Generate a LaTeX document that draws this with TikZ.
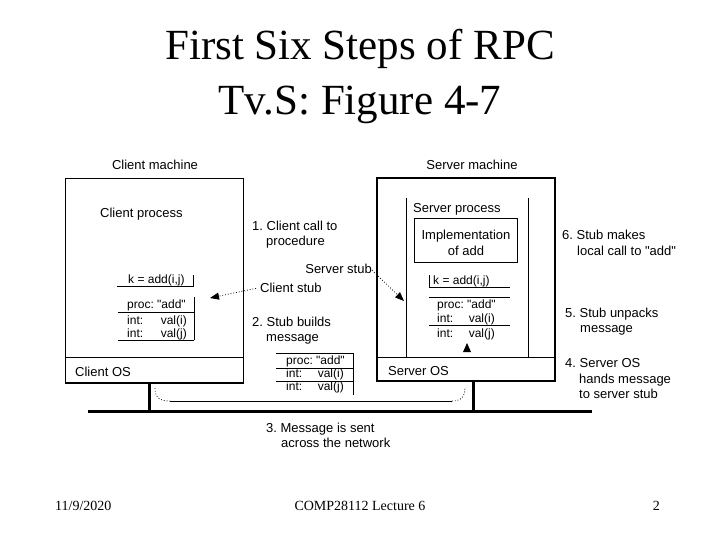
\documentclass[tikz,border=0pt]{standalone}
\usepackage{fontspec}
\setmainfont{Liberation Serif}
\newfontfamily\diagfont{Liberation Sans}
\usetikzlibrary{arrows.meta}
\frenchspacing
\tikzset{
  lbl/.style={font=\diagfont\fontsize{13}{15}\selectfont, inner sep=0pt, anchor=base west},
  stubtxt/.style={font=\diagfont\fontsize{12}{14}\selectfont, inner sep=0pt, anchor=base west},
  stubval/.style={stubtxt, anchor=base east},
  thin/.style={line width=1pt},
  thickbox/.style={line width=2pt},
  net/.style={line width=3pt},
  ptr/.style={dotted, line width=0.8pt, -{Triangle[length=9pt,width=7pt]}},
  ttl/.style={font=\fontsize{43}{50}\selectfont, inner sep=0pt, anchor=base},
  foot/.style={font=\fontsize{14}{16}\selectfont, inner sep=0pt}
}
\begin{document}
\frenchspacing
\begin{tikzpicture}[x=1pt,y=-1pt]
\useasboundingbox (0,0) rectangle (720,540);
\fill[white] (0,0) rectangle (720,540);

% title
\node[ttl] (t1) at (360,60) {First Six Steps of RPC};
\node[ttl] (t2) at (360,115) {Tv.S: Figure 4-7};

% client machine
\draw[thin] (65,179) rectangle (243,383);
\draw[thin] (65,357) -- (243,357);
\draw[thickbox] (65,383) -- (243,383);
\node[lbl, anchor=base] (cm) at (155,170) {Client machine};
\node[lbl] (cp) at (100,218) {Client process};
\node[lbl] (cos) at (75,376) {Client OS};

% client stub
\node[stubtxt] (ck) at (128,283) {k = add(i,j)};
\draw[thin] (117,286) -- (193,286) -- (193,275);
\draw[thin] (194,297) -- (194,340);
\draw[thin] (118,312) -- (194,312);
\draw[thin] (118,340) -- (194,340);
\node[stubtxt] (cproc) at (127,308) {proc: "add"};
\node[stubtxt] (ci1) at (127,324) {int:};
\node[stubval] (cv1) at (187,324) {val(i)};
\node[stubtxt] (ci2) at (127,337) {int:};
\node[stubval] (cv2) at (187,337) {val(j)};

% server machine
\draw[thickbox] (377,178) rectangle (555,381);
\draw[thin] (377,357) -- (555,357);
\draw[thin] (406,198) -- (406,357);
\draw[thin] (528,198) -- (528,357);
\node[lbl, anchor=base] (sm) at (472,170) {Server machine};
\node[lbl] (sp) at (413,212) {Server process};
\node[lbl] (sos) at (388,375) {Server OS};
\draw[thin] (414,219) rectangle (517,262);
\node[lbl, anchor=base] (impl1) at (466,240) {Implementation};
\node[lbl, anchor=base] (impl2) at (466,255) {of add};

% server stub
\node[stubtxt] (sk) at (433,284) {k = add(i,j)};
\draw[thin] (429,275) -- (429,287) -- (510,287);
\draw[thin] (429,297) -- (510,297);
\node[stubtxt] (sproc) at (437,308) {proc: "add"};
\node[stubtxt] (si1) at (437,322) {int:};
\node[stubval] (sv1) at (495,322) {val(i)};
\draw[thin] (429,325) -- (510,325);
\node[stubtxt] (si2) at (437,337) {int:};
\node[stubval] (sv2) at (495,337) {val(j)};
\fill (467,343) -- (463,352) -- (471,352) -- cycle;

% message in transit
\draw[thin] (276,353) -- (353,353);
\draw[thin] (276,368) -- (353,368);
\draw[thin] (276,381) -- (353,381);
\draw[thin] (353,353) -- (353,395);
\node[stubtxt] (mproc) at (286,364) {proc: "add"};
\node[stubtxt] (mi1) at (286,377) {int:};
\node[stubval] (mv1) at (344,377) {val(i)};
\node[stubtxt] (mi2) at (286,390) {int:};
\node[stubval] (mv2) at (344,390) {val(j)};

% network
\draw[net] (88,411) -- (592,411);
\draw[net] (149,383) -- (149,411);
\draw[net] (473,381) -- (473,411);
\draw[dotted, line width=0.8pt] (155,388) .. controls (155,398) and (160,401) .. (170,401);
\draw[thin] (170,401) -- (452,401);
\draw[dotted, line width=0.8pt] (452,401) .. controls (462,401) and (465,396) .. (465,387);

% step labels
\node[lbl] (s1a) at (252,230) {1. Client call to};
\node[lbl] (s1b) at (266,245) {procedure};
\node[lbl, anchor=base east] (ss) at (372,273) {Server stub};
\node[lbl] (cs) at (260,292) {Client stub};
\node[lbl] (s2a) at (252,326) {2. Stub builds};
\node[lbl] (s2b) at (266,341) {message};
\node[lbl] (s3a) at (266,432) {3. Message is sent};
\node[lbl] (s3b) at (281,447) {across the network};
\node[lbl] (s6a) at (562,240) {6. Stub makes};
\node[lbl] (s6b) at (577,255) {local call to "add"};
\node[lbl] (s5a) at (565,317) {5. Stub unpacks};
\node[lbl] (s5b) at (580,332) {message};
\node[lbl] (s4a) at (565,367) {4. Server OS};
\node[lbl] (s4b) at (579,383) {hands message};
\node[lbl] (s4c) at (579,398) {to server stub};

% pointer arrows
\coordinate (cstip) at (210,298);
\coordinate (sstip) at (404,301);
\draw[ptr] ([xshift=-4pt,yshift=-1pt]cs.west) -- (cstip);
\draw[ptr] ([yshift=3pt]ss.south east) -- (sstip);

% footer
\node[foot, anchor=base west] (date) at (55,510) {11/9/2020};
\node[foot, anchor=base] (course) at (360,510) {COMP28112 Lecture 6};
\node[foot, anchor=base east] (page) at (660,510) {2};
\end{tikzpicture}
\end{document}
